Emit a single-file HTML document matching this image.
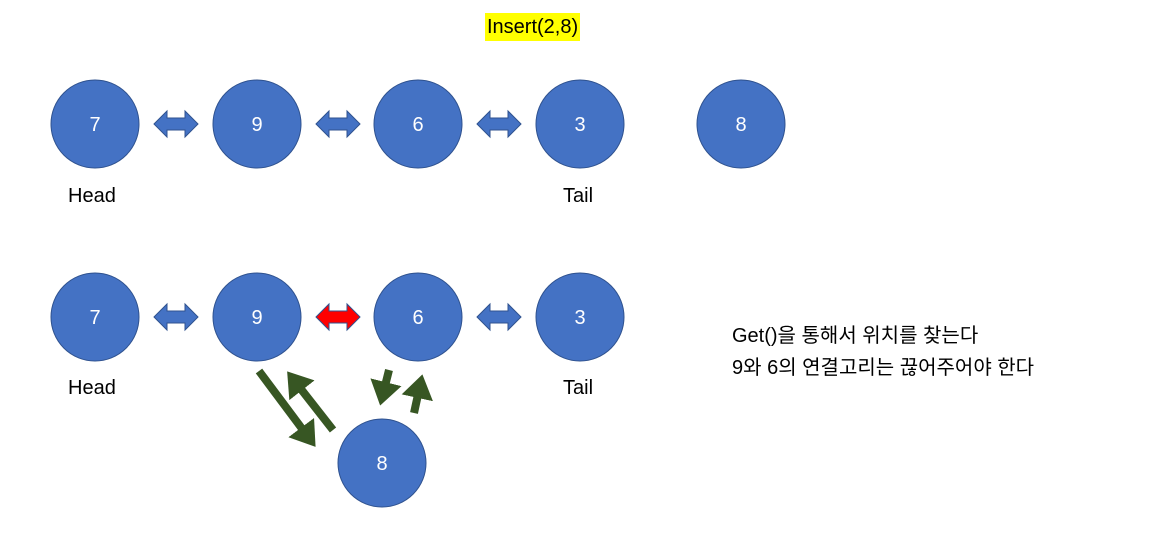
<!DOCTYPE html>
<html><head><meta charset="utf-8"><style>
body{margin:0;width:1152px;height:553px;background:#fff;overflow:hidden;position:relative;font-family:"Liberation Sans","Noto Sans CJK KR",sans-serif}
.t{position:absolute;font-size:20px;color:#000;white-space:nowrap}
</style></head><body>
<svg width="1152" height="553" style="position:absolute;left:0;top:0">
<defs>
<g id="dbl"><polygon points="0,0 13,-13 13,-6 31,-6 31,-13 44,0 31,13 31,6 13,6 13,13" stroke="#2f528f" stroke-width="1"/></g>
<marker id="ah" markerWidth="4" markerHeight="4" refX="1" refY="2" orient="auto" markerUnits="strokeWidth"><polygon points="0,0 3,2 0,4" fill="#375623"/></marker>
</defs>
<g fill="#4472c4" stroke="#2f528f" stroke-width="1">
<circle cx="95" cy="124" r="44"/><circle cx="257" cy="124" r="44"/><circle cx="418" cy="124" r="44"/><circle cx="580" cy="124" r="44"/><circle cx="741" cy="124" r="44"/>
<circle cx="95" cy="317" r="44"/><circle cx="257" cy="317" r="44"/><circle cx="418" cy="317" r="44"/><circle cx="580" cy="317" r="44"/><circle cx="382" cy="463" r="44"/>
</g>
<g fill="#4472c4">
<use href="#dbl" x="154" y="124"/><use href="#dbl" x="316" y="124"/><use href="#dbl" x="477" y="124"/>
<use href="#dbl" x="154" y="317"/><use href="#dbl" x="477" y="317"/>
</g>
<g fill="#ff0000"><use href="#dbl" x="316" y="317" style="stroke:#ff0000"/></g>
<g stroke="#375623" stroke-width="8" fill="none">
<line x1="259" y1="371" x2="306" y2="434" marker-end="url(#ah)"/>
<line x1="333" y1="430" x2="297" y2="384" marker-end="url(#ah)"/>
<line x1="389" y1="370" x2="384" y2="390" marker-end="url(#ah)"/>
<line x1="414" y1="413" x2="419" y2="390" marker-end="url(#ah)"/>
</g>
<g fill="#fff" font-size="20" text-anchor="middle" font-family="Liberation Sans, sans-serif">
<text x="95" y="131">7</text><text x="257" y="131">9</text><text x="418" y="131">6</text><text x="580" y="131">3</text><text x="741" y="131">8</text>
<text x="95" y="324">7</text><text x="257" y="324">9</text><text x="418" y="324">6</text><text x="580" y="324">3</text><text x="382" y="470">8</text>
</g>
</svg>
<div class="t" style="left:485px;top:13px;background:#ffff00;padding:0 2px;line-height:28px">Insert(2,8)</div>
<div class="t" style="left:68px;top:185px">Head</div>
<div class="t" style="left:563px;top:185px">Tail</div>
<div class="t" style="left:68px;top:377px">Head</div>
<div class="t" style="left:563px;top:377px">Tail</div>
<div class="t" style="left:732px;top:320px;line-height:32px">Get()을 통해서 위치를 찾는다<br>9와 6의 연결고리는 끊어주어야 한다</div>
</body></html>
